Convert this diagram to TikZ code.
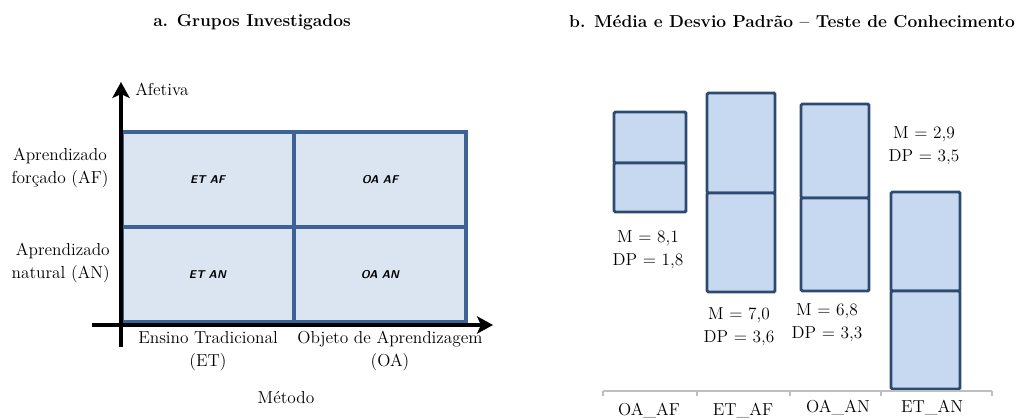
\documentclass[tikz,border=0pt]{standalone}
\usepackage{tikz}
\usetikzlibrary{arrows.meta}

\definecolor{gridline}{RGB}{61,99,150}
\definecolor{gridfill}{RGB}{219,229,241}
\definecolor{barline}{RGB}{47,74,112}
\definecolor{barfill}{RGB}{198,217,240}
\definecolor{basegray}{RGB}{191,191,191}

\tikzset{
  txt/.style={align=center,inner sep=0pt,font=\fontsize{13}{17.5}\selectfont},
  ttl/.style={inner sep=0pt,font=\fontsize{13}{15}\selectfont\bfseries},
  axis/.style={line width=3.5pt,-{Stealth[length=12pt,width=13pt,inset=3pt]}},
  cell/.style={draw=gridline,fill=gridfill,line width=3pt,minimum width=129pt,minimum height=71.25pt,
    font=\fontsize{8.5}{10}\selectfont\sffamily\bfseries\itshape},
  bar/.style={draw=barline,fill=barfill,line width=2.2pt,rounded corners=1pt},
  base/.style={draw=basegray,line width=1.3pt}
}

\begin{document}
\begin{tikzpicture}[x=0.75pt,y=-0.75pt]
\useasboundingbox (0,0) rectangle (1023,420);
% titles
\node[ttl] (ta) at (252,22) {a. Grupos Investigados};
\node[ttl] (tb) at (792,22) {b. Média e Desvio Padrão -- Teste de Conhecimento};
% a. grid of groups
\node[cell] (etaf) at (207.5,179.5) {ET AF};
\node[cell] (oaaf) at (380,179.5) {OA AF};
\node[cell] (etan) at (207.5,274.5) {ET AN};
\node[cell] (oaan) at (380,274.5) {OA AN};
\coordinate (ys) at (121,347);
\coordinate (ye) at (121,82);
\coordinate (xs) at (92,325);
\coordinate (xe) at (493,325);
\draw [axis] (xs) -- (xe);
\draw [axis] (ys) -- (ye);
\node[txt,anchor=west] (afetiva) at (135,89) {Afetiva};
\node[txt] (af) at (60,168) {Aprendizado\\forçado (AF)};
\node[txt,align=right,anchor=east] (an) at (110,263) {Aprendizado\\natural (AN)};
\node[txt] (et) at (208,351) {Ensino Tradicional\\(ET)};
\node[txt] (oa) at (390,351) {Objeto de Aprendizagem\\(OA)};
\node[txt] (metodo) at (286,398) {Método};
% b. mean and deviation bars
\draw [bar] (614,112) rectangle (686,163);
\draw [bar] (614,163) rectangle (686,212);
\draw [bar] (707,93) rectangle (775,193);
\draw [bar] (707,193) rectangle (775,292);
\draw [bar] (801,104) rectangle (869,198);
\draw [bar] (801,198) rectangle (869,291);
\draw [bar] (891,192) rectangle (960,291);
\draw [bar] (891,291) rectangle (960,389);
\node[txt] (m1) at (648,250) {M = 8,1\\DP = 1,8};
\node[txt] (m2) at (739,327) {M = 7,0\\DP = 3,6};
\node[txt] (m3) at (827,323) {M = 6,8\\DP = 3,3};
\node[txt] (m4) at (924,146) {M = 2,9\\DP = 3,5};
% baseline with ticks
\coordinate (b0) at (603,391);
\coordinate (b4) at (992,391);
\draw [base] (b0) -- (b4);
\draw [base] (603,391) -- (603,396);
\draw [base] (697,391) -- (697,396);
\draw [base] (790,391) -- (790,396);
\draw [base] (881,391) -- (881,396);
\draw [base] (992,391) -- (992,396);
\node[txt,anchor=base] (g1) at (649,415) {OA\_AF};
\node[txt,anchor=base] (g2) at (743,415) {ET\_AF};
\node[txt,anchor=base] (g3) at (838,412) {OA\_AN};
\node[txt,anchor=base] (g4) at (932,412) {ET\_AN};
\end{tikzpicture}
\end{document}
